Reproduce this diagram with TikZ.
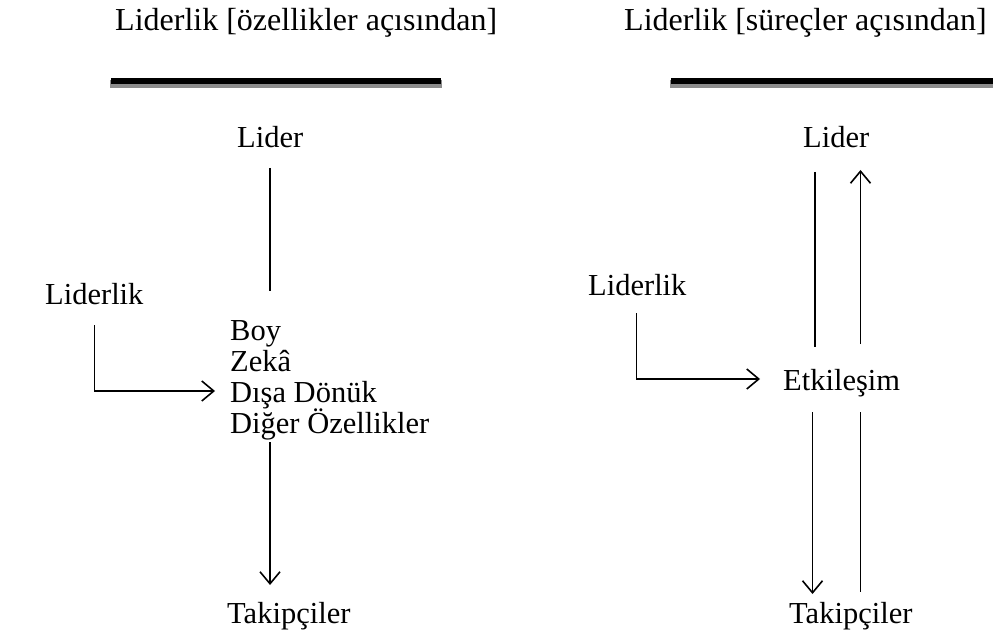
\documentclass[tikz,border=0pt]{standalone}
\usepackage{fontspec}
\setmainfont{Liberation Serif}
\usetikzlibrary{arrows.meta}
\begin{document}
\begin{tikzpicture}[x=1pt,y=-1pt,
  lbl/.style={anchor=base west,inner sep=0pt,font=\fontsize{30.5}{31}\selectfont},
  ttl/.style={lbl,font=\fontsize{32}{33}\selectfont},
  conn/.style={line width=1.6pt},
  arr/.style={conn,-{Straight Barb[length=12pt,width=20pt,line width=1.6pt]}},
  barshadow/.style={fill=black!45},
  barline/.style={fill=black}]
\useasboundingbox[fill=white] (0,0) rectangle (993,636);

% --- left panel: traits view ---
\node[ttl] (titleA) at (115,31) {Liderlik [özellikler açısından]};
\fill[barshadow] (110,80) rectangle (442,88);
\fill[barline] (111,78) rectangle (441,84);

\node[lbl] (liderA) at (237,148) {Lider};
\node[lbl] (liderlikA) at (45,305) {Liderlik};
\node[lbl] (boy) at (230,340) {Boy};
\node[lbl] (zeka) at (230,371) {Zekâ};
\node[lbl] (disa) at (230,402) {Dışa Dönük};
\node[lbl] (diger) at (230,433) {Diğer Özellikler};
\node[lbl] (takipA) at (227,623) {Takipçiler};

\coordinate (a1) at (270,168);
\coordinate (a2) at (270,291);
\draw[conn] (a1) -- (a2);

\coordinate (b1) at (94.5,325);
\coordinate (b2) at (94.5,391);
\coordinate (b3) at (215,391);
\draw[arr] (b1) -- (b2) -- (b3);

\coordinate (c1) at (270,442);
\coordinate (c2) at (270,585);
\draw[arr] (c1) -- (c2);

% --- right panel: process view ---
\node[ttl] (titleB) at (624,31) {Liderlik [süreçler açısından]};
\fill[barshadow] (670,80) rectangle (993,88);
\fill[barline] (671,78) rectangle (993,84);

\node[lbl] (liderB) at (803,148) {Lider};
\node[lbl] (liderlikB) at (588,295) {Liderlik};
\node[lbl] (etki) at (783,390) {Etkileşim};
\node[lbl] (takipB) at (789,623) {Takipçiler};

\coordinate (d1) at (815,172);
\coordinate (d2) at (815,347);
\draw[conn] (d1) -- (d2);

\coordinate (e1) at (860.5,344);
\coordinate (e2) at (860.5,170);
\draw[arr] (e1) -- (e2);

\coordinate (f1) at (636.5,313);
\coordinate (f2) at (636.5,379);
\coordinate (f3) at (760,379);
\draw[arr] (f1) -- (f2) -- (f3);

\coordinate (g1) at (812.5,412);
\coordinate (g2) at (812.5,594);
\draw[arr] (g1) -- (g2);

\coordinate (h1) at (860.5,412);
\coordinate (h2) at (860.5,592);
\draw[conn] (h1) -- (h2);
\end{tikzpicture}
\end{document}
